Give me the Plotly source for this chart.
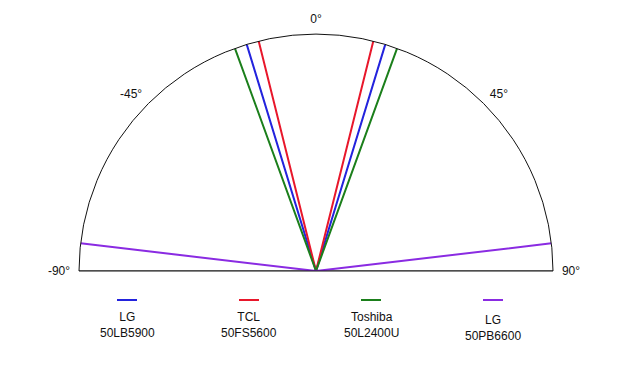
import plotly.graph_objects as go

# Data
series_names = ["LG<br>50LB5900", "TCL<br>50FS5600", "Toshiba<br>50L2400U", "LG<br>50PB6600"]
half_angles = [17, 14, 20, 83.3]
colors = ["#2323dd", "#e8172b", "#1b7f1b", "#8a2be2"]
tick_vals = [-90, -45, 0, 45, 90]
tick_text = ["-90°", "-45°", "0°", "45°", "90°"]

W, H = 634, 369
fig = go.Figure()

# baseline (diameter)
fig.add_trace(go.Scatterpolar(theta=[-90, 90], r=[1, 1], mode="lines",
                              line=dict(color="#666666", width=1.5),
                              showlegend=False, hoverinfo="skip"))

for name, a, c in zip(series_names, half_angles, colors):
    fig.add_trace(go.Scatterpolar(theta=[-a, 0, a], r=[1, 0, 1], mode="lines",
                                  line=dict(color=c, width=2), name=name,
                                  showlegend=False))

# manual legend: line above label, centered
leg_x = [127, 249, 371, 493]
leg_dy = [0, 0, 0, 3]
for i, (name, c) in enumerate(zip(series_names, colors)):
    x = leg_x[i] / W
    fig.add_shape(type="line", xref="paper", yref="paper",
                  x0=(leg_x[i] - 10) / W, x1=(leg_x[i] + 10) / W,
                  y0=1 - 300 / H, y1=1 - 300 / H,
                  line=dict(color=c, width=2))
    fig.add_annotation(xref="paper", yref="paper", x=x, y=1 - (325 + leg_dy[i]) / H,
                       text=name, showarrow=False, xanchor="center", yanchor="middle",
                       font=dict(size=12, color="#111111", family="Liberation Sans, Arial"),
                       align="center")

fig.update_layout(
    width=W, height=H,
    margin=dict(l=0, r=0, t=0, b=0),
    paper_bgcolor="white",
    showlegend=False,
    font=dict(family="Liberation Sans, Arial", size=12, color="#111111"),
    polar=dict(
        domain=dict(x=[79 / W, 553 / W], y=[1 - 271 / H, 1 - 34 / H]),
        sector=[0, 180],
        bgcolor="white",
        radialaxis=dict(visible=False, range=[0, 1], showgrid=False),
        angularaxis=dict(rotation=90, direction="clockwise",
                         tickmode="array", tickvals=tick_vals, ticktext=tick_text,
                         showgrid=False, ticks="outside", ticklen=6,
                         tickcolor="rgba(0,0,0,0)", showline=True,
                         linecolor="#111111", linewidth=1,
                         tickfont=dict(size=12, color="#111111")),
    ),
)

fig.write_html("out.html")
